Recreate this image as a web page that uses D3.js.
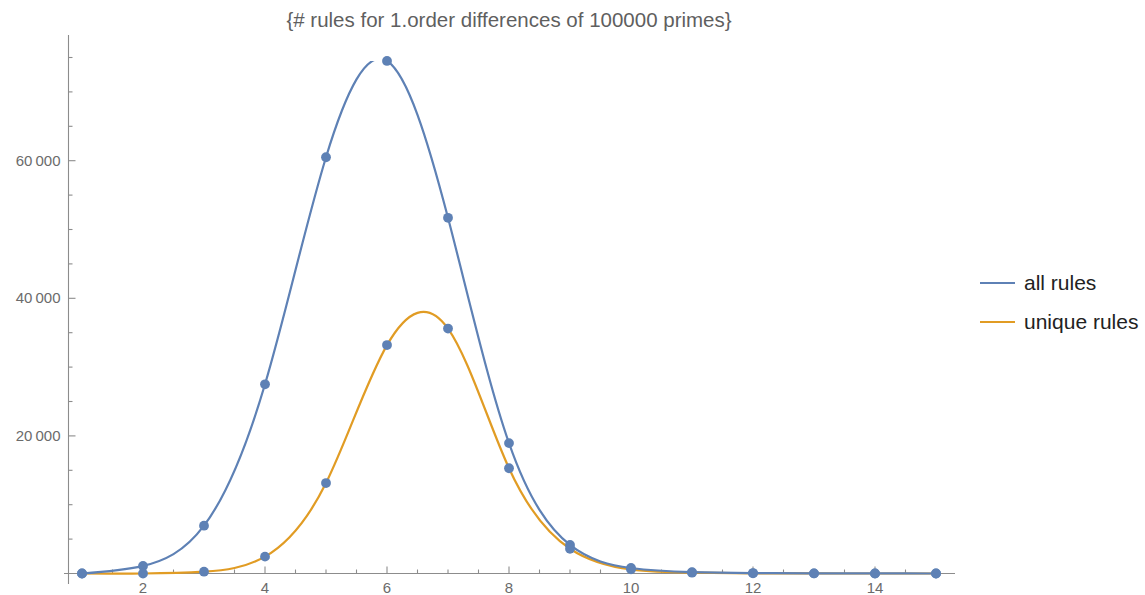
<!DOCTYPE html>
<html>
<head>
<meta charset="utf-8">
<script src="https://cdn.jsdelivr.net/npm/d3@7"></script>
<style>
  html, body { margin: 0; padding: 0; background: #fff; }
  svg { display: block; font-family: "Liberation Sans", Arial, sans-serif; }
</style>
</head>
<body>
<svg id="chart" width="1145" height="595"></svg>
<script>
// Number of rules per order (1..15), for the first-order differences of 100000 primes
const orders = [1, 2, 3, 4, 5, 6, 7, 8, 9, 10, 11, 12, 13, 14, 15];
const allRules = [0, 1100, 6950, 27500, 60500, 74500, 51700, 18950, 4150, 800, 200, 60, 20, 10, 0];
const uniqueRules = [0, 0, 260, 2450, 13150, 33200, 35600, 15300, 3600, 600, 120, 30, 5, 0, 0];

const seriesNames = ["all rules", "unique rules"];
const seriesColors = ["#5e81b5", "#e19c24"];
const pointColor = "#5e81b5";

const xTicksMajor = [2, 4, 6, 8, 10, 12, 14];
const yTicksMajor = [20000, 40000, 60000];

const title = "{# rules for 1.order differences of 100000 primes}";

const svg = d3.select("#chart");

// Scales
const x = d3.scaleLinear().domain([1, 15]).range([82, 936]);
const y = d3.scaleLinear().domain([0, 75000]).range([573.5, 57.5]);

const xAxisStart = x.invert(64), xAxisEnd = x.invert(955);
const yAxisBottom = y.invert(584), yAxisTop = y.invert(35);
const yAxisAt = x.invert(68.5);

const axisColor = "#8c8c8c";
const labelColor = "#6b6b6b";

const locale = d3.formatLocale({ decimal: ".", thousands: "\u2009", grouping: [3], currency: ["", ""] });
const fmt = locale.format(",d");

// Minor tick positions
const xMinor = d3.range(1, 15.31, 0.5).filter(v => !xTicksMajor.includes(v));
const yMinor = d3.range(5000, 76000, 5000).filter(v => !yTicksMajor.includes(v));

const axes = svg.append("g").attr("stroke", axisColor).attr("stroke-width", 1.1).attr("fill", "none");

// x axis line and ticks (ticks point up into the plot)
axes.append("line")
  .attr("x1", x(xAxisStart)).attr("x2", x(xAxisEnd))
  .attr("y1", y(0)).attr("y2", y(0));
axes.selectAll(".xmaj").data(xTicksMajor).join("line")
  .attr("x1", d => x(d)).attr("x2", d => x(d))
  .attr("y1", y(0)).attr("y2", y(0) - 7);
axes.selectAll(".xmin").data(xMinor).join("line")
  .attr("x1", d => x(d)).attr("x2", d => x(d))
  .attr("y1", y(0)).attr("y2", y(0) - 4);

// y axis line and ticks (ticks point right into the plot)
axes.append("line")
  .attr("x1", x(yAxisAt)).attr("x2", x(yAxisAt))
  .attr("y1", y(yAxisBottom)).attr("y2", y(yAxisTop));
axes.selectAll(".ymaj").data(yTicksMajor).join("line")
  .attr("x1", x(yAxisAt)).attr("x2", x(yAxisAt) + 7)
  .attr("y1", d => y(d)).attr("y2", d => y(d));
axes.selectAll(".ymin").data(yMinor).join("line")
  .attr("x1", x(yAxisAt)).attr("x2", x(yAxisAt) + 4)
  .attr("y1", d => y(d)).attr("y2", d => y(d));

// Tick labels
svg.append("g").selectAll("text").data(xTicksMajor).join("text")
  .attr("x", d => x(d)).attr("y", y(0) + 19)
  .attr("text-anchor", "middle")
  .attr("font-size", 15).attr("fill", labelColor)
  .text(d => d);
svg.append("g").selectAll("text").data(yTicksMajor).join("text")
  .attr("x", x(yAxisAt) - 8).attr("y", d => y(d) + 5)
  .attr("text-anchor", "end")
  .attr("font-size", 15).attr("fill", labelColor)
  .text(d => fmt(d));

// Clip the curves to the data range (top = largest value)
const yMax = d3.max([...allRules, ...uniqueRules]);
svg.append("clipPath").attr("id", "plotclip")
  .append("rect")
  .attr("x", x(xAxisStart)).attr("width", x(xAxisEnd) - x(xAxisStart))
  .attr("y", y(yMax)).attr("height", y(0) - y(yMax) + 3);

const series = [allRules, uniqueRules];
const line = d3.line()
  .x((d, i) => x(orders[i]))
  .y(d => y(d))
  .curve(d3.curveNatural);

const curves = svg.append("g").attr("clip-path", "url(#plotclip)");
// unique rules first, so the all-rules curve sits on top
series.slice().reverse().forEach((s, k) => {
  const idx = series.length - 1 - k;
  curves.append("path")
    .datum(s)
    .attr("d", line)
    .attr("fill", "none")
    .attr("stroke", seriesColors[idx])
    .attr("stroke-width", 2.2)
    .attr("stroke-linejoin", "round");
});

// Data points (both series drawn in the same colour)
const pts = svg.append("g");
series.forEach(s => {
  pts.selectAll(null).data(s).join("circle")
    .attr("cx", (d, i) => x(orders[i]))
    .attr("cy", d => y(d))
    .attr("r", 4.9)
    .attr("fill", pointColor);
});

// Title
svg.append("text")
  .attr("x", 509).attr("y", 27)
  .attr("text-anchor", "middle")
  .attr("font-size", 20.5).attr("fill", "#5f5f5f")
  .text(title);

// Legend
const legend = svg.append("g").attr("transform", "translate(980,283)");
seriesNames.forEach((name, i) => {
  const g = legend.append("g").attr("transform", `translate(0,${i * 39})`);
  g.append("line").attr("x1", 0).attr("x2", 35).attr("y1", 0).attr("y2", 0)
    .attr("stroke", seriesColors[i]).attr("stroke-width", 2.2);
  g.append("text").attr("x", 44).attr("y", 7)
    .attr("font-size", 21).attr("fill", "#222")
    .text(name);
});
</script>
</body>
</html>
